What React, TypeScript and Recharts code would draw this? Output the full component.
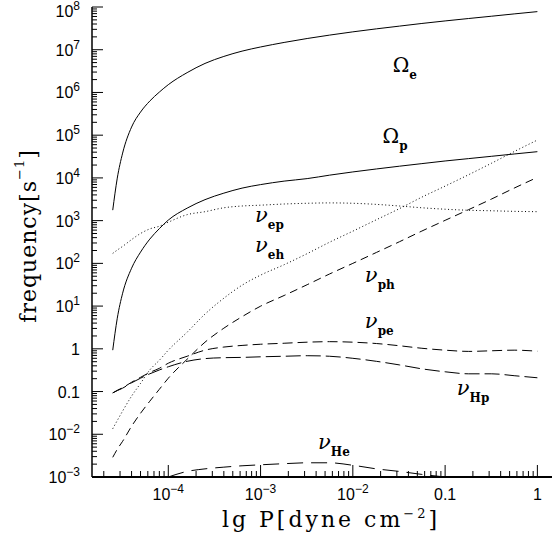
import { LineChart, Line, XAxis, YAxis, ReferenceDot } from "recharts";

// pressure grid, dyne cm^-2
const pressure = [
  2.5e-5, 2.8e-5, 3.2e-5, 4e-5, 5e-5, 6.3e-5, 8e-5, 1e-4, 1.6e-4, 2.5e-4, 4e-4, 6.3e-4, 1e-3,
  1.8e-3, 3.2e-3, 5.6e-3, 1e-2, 1.8e-2, 3.2e-2, 5.6e-2, 0.1, 0.18, 0.32, 0.56, 1,
];

// frequencies, s^-1 (null = not plotted)
const omegaE = [
  1760, 9890, 3.81e4, 1.55e5, 3.47e5, 6.29e5, 1.02e6, 1.52e6, 2.91e6, 4.78e6, 6.97e6, 9.27e6, 1.16e7,
  1.48e7, 1.83e7, 2.2e7, 2.62e7, 3.08e7, 3.57e7, 4.12e7, 4.72e7, 5.38e7, 6.09e7, 6.89e7, 7.8e7,
];
const omegaP = [
  0.93, 5.2, 20, 77, 183, 369, 650, 1030, 1960, 3100, 4400, 5770, 6970,
  8410, 9630, 1.16e4, 1.38e4, 1.62e4, 1.88e4, 2.16e4, 2.49e4, 2.83e4, 3.21e4, 3.63e4, 4.11e4,
];
const nuEp = [
  171, 205, 250, 360, 500, 640, 740, 920, 1380, 1620, 2000, 2200, 2300,
  2450, 2550, 2600, 2550, 2400, 2200, 2000, 1850, 1750, 1700, 1650, 1620,
];
const nuEh = [
  0.0135, 0.021, 0.035, 0.078, 0.155, 0.32, 0.54, 0.93, 2.45, 6.5, 15.3, 30.8, 53,
  93, 169, 313, 567, 1050, 1910, 3550, 6430, 1.19e4, 2.22e4, 4.13e4, 7.7e4,
];
const nuPh = [
  0.00289, 0.00446, 0.00686, 0.0154, 0.031, 0.0593, 0.113, 0.205, 0.57, 1.43, 3.04, 5.65, 9.95,
  17.7, 31.7, 56.5, 100, 180, 321, 571, 1016, 1811, 3220, 5770, 1.03e4,
];
const nuPe = [
  0.093, 0.107, 0.123, 0.165, 0.215, 0.28, 0.35, 0.46, 0.67, 0.93, 1.1, 1.2, 1.28,
  1.35, 1.43, 1.47, 1.43, 1.33, 1.18, 1.03, 0.93, 0.87, 0.9, 0.93, 0.88,
];
const nuHp = [
  0.093, 0.105, 0.12, 0.16, 0.205, 0.26, 0.32, 0.38, 0.51, 0.59, 0.62, 0.63, 0.65,
  0.67, 0.69, 0.67, 0.6, 0.51, 0.42, 0.34, 0.29, 0.26, 0.26, 0.235, 0.21,
];
const nuHe = [
  null, null, null, null, null, null, null, 0.001, 0.00135, 0.00155, 0.0017, 0.00183, 0.00193,
  0.00205, 0.00215, 0.00215, 0.00188, 0.00155, 0.00135, 0.00115, 0.001, null, null, null, null,
];

const X_MAJOR = [1e-4, 1e-3, 1e-2, 0.1, 1];
const X_MAJOR_LABELS = ["10^-4", "10^-3", "10^-2", "0.1", "1"];
const Y_MAJOR = [1e-3, 1e-2, 0.1, 1, 10, 100, 1e3, 1e4, 1e5, 1e6, 1e7, 1e8];
const Y_MAJOR_LABELS = ["10^-3", "10^-2", "0.1", "1", "10^1", "10^2", "10^3", "10^4", "10^5", "10^6", "10^7", "10^8"];

// curve names: [symbol, subscript, p, f] (p, f = where the symbol sits)
const CURVE_LABELS: [string, string, number, number][] = [
  ["Ω", "e", 0.027, 3.0e6],
  ["Ω", "p", 0.021, 6.5e4],
  ["ν", "ep", 8.7e-4, 920],
  ["ν", "eh", 8.7e-4, 183],
  ["ν", "ph", 0.0135, 36],
  ["ν", "pe", 0.0135, 3.0],
  ["ν", "Hp", 0.134, 0.082],
  ["ν", "He", 4.2e-3, 4.5e-3],
];

const data = pressure.map((p, i) => ({
  p,
  omegaE: omegaE[i],
  omegaP: omegaP[i],
  nuEp: nuEp[i],
  nuEh: nuEh[i],
  nuPh: nuPh[i],
  nuPe: nuPe[i],
  nuHp: nuHp[i],
  nuHe: nuHe[i],
}));

const SERIES = [
  { key: "omegaE", dash: undefined },
  { key: "omegaP", dash: undefined },
  { key: "nuEp", dash: "1 2.5" },
  { key: "nuEh", dash: "1 2.5" },
  { key: "nuPh", dash: "8 5" },
  { key: "nuPe", dash: "10 5" },
  { key: "nuHp", dash: "15 5" },
  { key: "nuHe", dash: "16 8" },
];

const X_DOMAIN = [1.49e-5, 1.44];
const Y_DOMAIN = [1e-3, 1e8];

function minorTicks(e0: number, e1: number, lo: number, hi: number) {
  const out: number[] = [];
  for (let e = e0; e <= e1; e++) {
    for (let k = 2; k <= 9; k++) {
      const v = k * Math.pow(10, e);
      if (v > lo && v < hi) out.push(v);
    }
  }
  return out;
}

const X_TICKS = [...X_MAJOR, ...minorTicks(-5, -1, X_DOMAIN[0], X_DOMAIN[1])];
const Y_TICKS = [...Y_MAJOR, ...minorTicks(-3, 7, Y_DOMAIN[0], Y_DOMAIN[1])];

const SANS = "'Liberation Sans', Arial, sans-serif";
const SERIF = "'DejaVu Serif', serif";

function majorIndex(list: number[], v: number) {
  return list.findIndex((m) => Math.abs(Math.log10(m) - Math.log10(v)) < 1e-6);
}

function TickLabel({ x, y, text, anchor }: { x: number; y: number; text: string; anchor: "start" | "middle" | "end" }) {
  const [base, exp] = text.split("^");
  return (
    <text x={x} y={y} textAnchor={anchor} fontFamily={SANS} fontSize={16} fill="#000">
      {base}
      {exp && (
        <tspan dy={-7} fontSize={12}>
          {exp.replace("-", "−")}
        </tspan>
      )}
    </text>
  );
}

function BottomTick(props: any) {
  const { x, y, payload } = props;
  const i = majorIndex(X_MAJOR, payload.value);
  const len = i >= 0 ? 12 : 6;
  return (
    <g>
      <line x1={x} x2={x} y1={y} y2={y - len} stroke="#000" />
      {i >= 0 && <TickLabel x={x} y={y + 23} text={X_MAJOR_LABELS[i]} anchor="middle" />}
    </g>
  );
}

function TopTick(props: any) {
  const { x, y, payload } = props;
  const len = majorIndex(X_MAJOR, payload.value) >= 0 ? 12 : 6;
  return <line x1={x} x2={x} y1={y} y2={y + len} stroke="#000" />;
}

function LeftTick(props: any) {
  const { x, y, payload } = props;
  const i = majorIndex(Y_MAJOR, payload.value);
  const len = i >= 0 ? 11 : 5;
  return (
    <g>
      <line x1={x} x2={x + len} y1={y} y2={y} stroke="#000" />
      {i >= 0 && <TickLabel x={x - 12} y={Math.max(y + 6, 17)} text={Y_MAJOR_LABELS[i]} anchor="end" />}
    </g>
  );
}

function RightTick(props: any) {
  const { x, y, payload } = props;
  const len = majorIndex(Y_MAJOR, payload.value) >= 0 ? 11 : 5;
  return <line x1={x} x2={x - len} y1={y} y2={y} stroke="#000" />;
}

function XTitle() {
  return (
    <text x={331} y={527} textAnchor="middle" fontFamily={SERIF} fontSize={22} letterSpacing={3} fill="#000">
      lg P[dyne cm
      <tspan dy={-9} fontSize={13}>
        −2
      </tspan>
      <tspan dy={9}>]</tspan>
    </text>
  );
}

function YTitle() {
  return (
    <text
      x={28}
      y={236}
      transform="rotate(-90, 28, 236)"
      textAnchor="middle"
      dominantBaseline="central"
      fontFamily={SERIF}
      fontSize={22}
      letterSpacing={1}
      fill="#000"
    >
      frequency[s
      <tspan dy={-9} fontSize={13}>
        −1
      </tspan>
      <tspan dy={9}>]</tspan>
    </text>
  );
}

function curveLabel(sym: string, sub: string) {
  return (lp: any) => {
    const vb = lp.viewBox || {};
    return (
      <text x={vb.x} y={vb.y} fontFamily={SERIF} fontSize={sym === "ν" ? 21 : 20} fill="#000">
        <tspan fontStyle={sym === "ν" ? "italic" : "normal"}>{sym}</tspan>
        <tspan dy={7} fontSize={12} fontWeight="bold">
          {sub}
        </tspan>
      </text>
    );
  };
}

export default function App() {
  return (
    <div style={{ position: "absolute", left: 0, top: 0, background: "#fff" }}>
      <LineChart width={553} height={541} data={data} margin={{ top: 7, right: 1, bottom: 0, left: 0 }}>
        <XAxis
          dataKey="p"
          type="number"
          scale="log"
          domain={X_DOMAIN}
          allowDataOverflow
          ticks={X_TICKS}
          interval={0}
          height={64}
          tickSize={0}
          tickMargin={0}
          tick={BottomTick}
          tickLine={false}
          axisLine={{ stroke: "#000", strokeWidth: 2 }}
          label={<XTitle />}
        />
        <XAxis
          xAxisId="top"
          orientation="top"
          dataKey="p"
          type="number"
          scale="log"
          domain={X_DOMAIN}
          allowDataOverflow
          ticks={X_TICKS}
          interval={0}
          height={0}
          tickSize={0}
          tickMargin={0}
          tick={TopTick}
          tickLine={false}
          axisLine={{ stroke: "#000", strokeWidth: 1.5 }}
        />
        <YAxis
          type="number"
          scale="log"
          domain={Y_DOMAIN}
          allowDataOverflow
          ticks={Y_TICKS}
          interval={0}
          width={92}
          tickSize={0}
          tickMargin={0}
          tick={LeftTick}
          tickLine={false}
          axisLine={{ stroke: "#000", strokeWidth: 1.5 }}
          label={<YTitle />}
        />
        <YAxis
          yAxisId="right"
          orientation="right"
          type="number"
          scale="log"
          domain={Y_DOMAIN}
          allowDataOverflow
          ticks={Y_TICKS}
          interval={0}
          width={0}
          tickSize={0}
          tickMargin={0}
          tick={RightTick}
          tickLine={false}
          axisLine={{ stroke: "#888", strokeWidth: 1, strokeDasharray: "1 2" }}
        />
        {SERIES.map((s) => (
          <Line
            key={s.key}
            dataKey={s.key}
            type="monotone"
            stroke="#000"
            strokeWidth={1}
            strokeDasharray={s.dash}
            dot={false}
            activeDot={false}
            isAnimationActive={false}
          />
        ))}
        {CURVE_LABELS.map(([sym, sub, p, f]) => (
          <ReferenceDot
            key={sym + sub}
            x={p}
            y={f}
            r={0}
            fill="none"
            stroke="none"
            label={{ content: curveLabel(sym, sub) }}
          />
        ))}
      </LineChart>
    </div>
  );
}
